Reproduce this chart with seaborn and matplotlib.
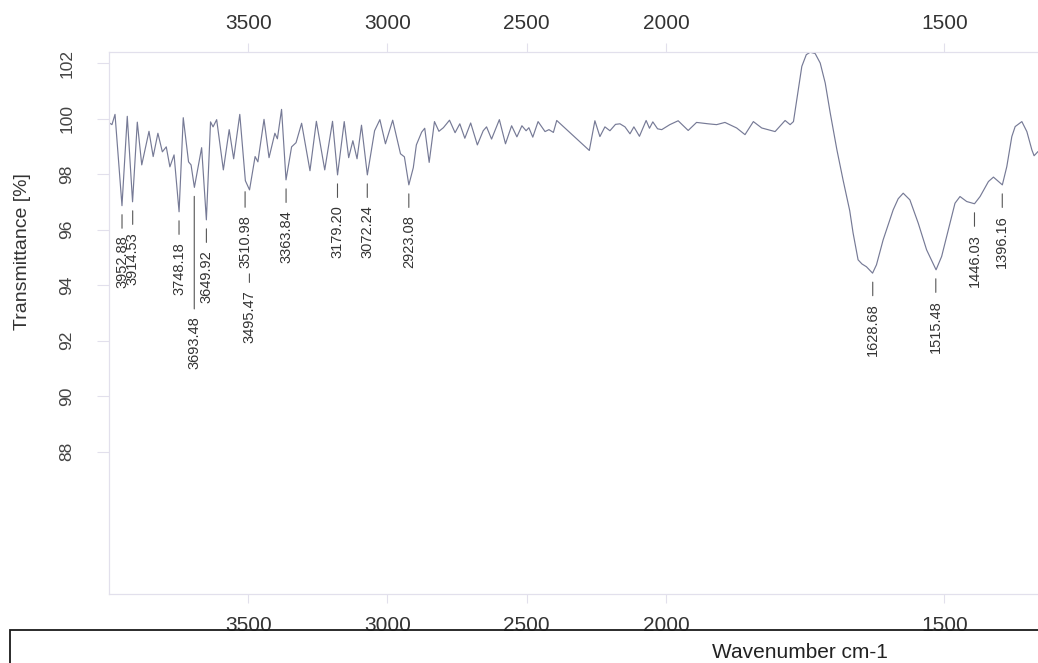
import numpy as np
import pandas as pd
import matplotlib
matplotlib.use("Agg")
import matplotlib.pyplot as plt
import seaborn as sns
from matplotlib.patches import Rectangle

# ---------------- data ----------------
wavenumber = [3998, 3989, 3978, 3953, 3934, 3915, 3898, 3882, 3856, 3841,
              3824, 3808, 3794, 3781, 3766, 3748, 3733, 3714, 3705, 3693,
              3667, 3650, 3635, 3626, 3613, 3589, 3568, 3552, 3530, 3510,
              3495, 3475, 3465, 3443, 3425, 3404, 3395, 3380, 3364, 3344,
              3328, 3308, 3278, 3255, 3225, 3197, 3179, 3155, 3139, 3124,
              3109, 3093, 3072, 3046, 3027, 3007, 2981, 2953, 2939, 2923,
              2907, 2896, 2877, 2866, 2850, 2831, 2815, 2799, 2777, 2757,
              2740, 2722, 2701, 2677, 2656, 2644, 2626, 2598, 2576, 2554,
              2535, 2517, 2502, 2492, 2478, 2459, 2434, 2420, 2404, 2392,
              2275, 2255, 2237, 2219, 2201, 2181, 2165, 2147, 2129, 2115,
              2095, 2071, 2059, 2047, 2030, 2015, 1993, 1978, 1960, 1945,
              1924, 1909, 1894, 1873, 1858, 1843, 1828, 1804, 1786, 1777,
              1771, 1765, 1756, 1748, 1741, 1732, 1723, 1714, 1705, 1693,
              1682, 1670, 1664, 1655, 1648, 1640, 1629, 1622, 1610, 1592,
              1583, 1574, 1562, 1547, 1532, 1515, 1505, 1493, 1481, 1472,
              1460, 1446, 1436, 1421, 1412, 1396, 1388, 1379, 1373, 1361,
              1352, 1343, 1339, 1332]

transmittance = [99.84, 99.78, 100.15, 96.86, 100.08, 97.00, 99.87, 98.33, 99.54, 98.63,
                 99.47, 98.80, 98.98, 98.26, 98.69, 96.64, 100.03, 98.44, 98.33, 97.52,
                 98.95, 96.35, 99.88, 99.70, 99.96, 98.15, 99.60, 98.55, 100.15, 97.76,
                 97.43, 98.63, 98.44, 99.97, 98.59, 99.47, 99.27, 100.33, 97.79, 98.98,
                 99.13, 99.83, 98.12, 99.90, 98.15, 99.90, 97.97, 99.89, 98.59, 99.20,
                 98.55, 99.76, 97.97, 99.56, 99.96, 99.09, 99.94, 98.73, 98.62, 97.61,
                 98.23, 99.05, 99.51, 99.65, 98.42, 99.89, 99.54, 99.67, 99.94, 99.49,
                 99.81, 99.29, 99.84, 99.05, 99.56, 99.70, 99.26, 99.96, 99.09, 99.74,
                 99.34, 99.74, 99.56, 99.67, 99.33, 99.89, 99.53, 99.60, 99.50, 99.93,
                 98.85, 99.92, 99.35, 99.70, 99.56, 99.79, 99.81, 99.70, 99.45, 99.70,
                 99.36, 99.93, 99.65, 99.88, 99.63, 99.60, 99.78, 99.92, 99.57, 99.86,
                 99.81, 99.78, 99.86, 99.66, 99.42, 99.89, 99.66, 99.53, 99.93, 99.78,
                 99.89, 100.68, 101.88, 102.30, 102.39, 102.34, 102.00, 101.28, 100.20, 98.87,
                 97.79, 96.68, 95.88, 94.91, 94.76, 94.66, 94.43, 94.73, 95.63, 96.71,
                 97.11, 97.31, 97.07, 96.23, 95.27, 94.55, 95.03, 95.99, 96.95, 97.19,
                 97.01, 96.93, 97.19, 97.73, 97.89, 97.61, 98.27, 99.35, 99.71, 99.89,
                 99.53, 98.87, 98.66, 98.81]

peak_wavenumber = [3952.88, 3914.53, 3748.18, 3693.48, 3649.92, 3510.98, 3495.47,
                   3363.84, 3179.20, 3072.24, 2923.08, 1628.68, 1515.48, 1446.03, 1396.16]
peak_transmittance = [96.86, 97.00, 96.64, 97.52, 96.35, 97.76, 97.43,
                      97.79, 97.97, 97.97, 97.61, 94.43, 94.55, 96.93, 97.61]

x_ticks = [3500, 3000, 2500, 2000, 1500]
y_ticks = [88, 90, 92, 94, 96, 98, 100, 102]

# ---------------- style ----------------
sns.set_theme(style="white")
plt.rcParams["font.family"] = ["Liberation Sans", "DejaVu Sans"]

LINE_COLOR = "#767a96"
FRAME_COLOR = "#e2e0ec"
TEXT_COLOR = "#333333"

# scale change at 2000 cm-1 (region below 2000 expanded x2)
def fwd(x):
    x = np.asarray(x, dtype=float)
    return np.where(x >= 2000, x, 2 * x - 2000)

def inv(u):
    u = np.asarray(u, dtype=float)
    return np.where(u >= 2000, u, (u + 2000) / 2)

fig = plt.figure(figsize=(10.38, 6.63), dpi=100)
ax = fig.add_axes([0.1049, 0.1041, 0.8951, 0.818])

df = pd.DataFrame({"Wavenumber": wavenumber, "Transmittance": transmittance})
sns.lineplot(data=df, x="Wavenumber", y="Transmittance", ax=ax,
             color=LINE_COLOR, linewidth=0.85, estimator=None, sort=False)

ax.set_xscale("function", functions=(fwd, inv))
ax.set_xlim(4000, 1332)
ax.set_ylim(82.87, 102.41)

for side, sp in ax.spines.items():
    sp.set_color(FRAME_COLOR)
    sp.set_linewidth(0.9)
ax.spines["right"].set_visible(False)

# bottom x ticks
ax.set_xticks(x_ticks)
ax.set_xticklabels([str(t) for t in x_ticks])
ax.tick_params(axis="x", bottom=True, top=False, labelbottom=True, direction="out",
               length=6.5, width=0.8, color=FRAME_COLOR, pad=9.7,
               labelsize=15, labelcolor=TEXT_COLOR)

# y ticks
ax.set_yticks(y_ticks)
ax.set_yticklabels([str(t) for t in y_ticks])
ax.tick_params(axis="y", left=True, direction="out", length=9, width=0.8,
               color=FRAME_COLOR, pad=15.8, labelsize=12.5, labelrotation=90,
               labelcolor="#444444")
for lab in ax.get_yticklabels():
    lab.set_va("center")

# top x ticks via twin axis
ax2 = ax.twiny()
ax2.set_xscale("function", functions=(fwd, inv))
ax2.set_xlim(ax.get_xlim())
ax2.set_xticks(x_ticks)
ax2.set_xticklabels([str(t) for t in x_ticks])
ax2.tick_params(axis="x", top=True, labeltop=True, bottom=False, labelbottom=False,
                direction="out", length=6.5, width=0.8, color=FRAME_COLOR, pad=6.9,
                labelsize=15, labelcolor=TEXT_COLOR)
for sp in ax2.spines.values():
    sp.set_visible(False)

# labels
ax.set_ylabel("Transmittance [%]", fontsize=14, color=TEXT_COLOR)
ax.yaxis.label.set_va("center")
ax.yaxis.set_label_coords(-0.093, 0.631)
ax.set_xlabel("Wavenumber cm-1", fontsize=15, color="#222222")
ax.xaxis.set_label_coords(0.744, -0.0904)

# peak annotations: (text offset px, leader start px)
label_layout = {3693.48: (129, 9), 3510.98: (34, 11), 3495.47: (100, 84)}
for wn, t in zip(peak_wavenumber, peak_transmittance):
    off, start = label_layout.get(wn, (30, 9))
    ax.annotate(f"{wn:.2f}", xy=(wn, t), xytext=(0, -off), textcoords="offset pixels",
                rotation=90, ha="center", va="top", fontsize=10.5, color=TEXT_COLOR,
                arrowprops=dict(arrowstyle="-", color="#555555", lw=0.8,
                                shrinkA=3, shrinkB=start * 0.72))

# box at the bottom of the page
fig.add_artist(Rectangle((0.0096, -0.5), 1.5, 0.5 + 0.0498, transform=fig.transFigure,
                         fill=False, edgecolor="#1a1a1a", linewidth=1.3, zorder=5))

fig.savefig("out.png", dpi=100)
